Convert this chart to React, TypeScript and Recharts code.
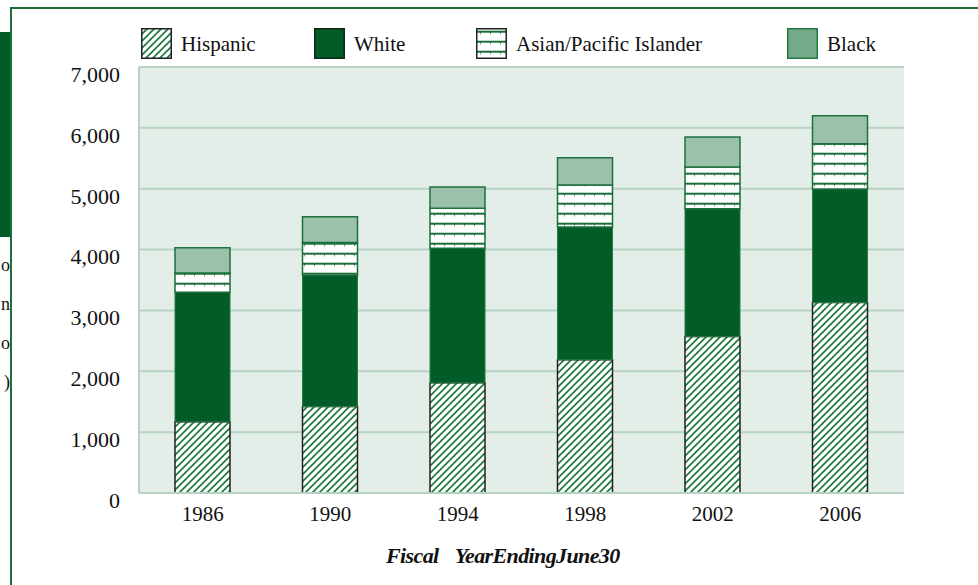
import React from "react";
import { BarChart, Bar, XAxis, YAxis, CartesianGrid } from "recharts";

const years = ["1986", "1990", "1994", "1998", "2002", "2006"];
const hispanic = [1170, 1420, 1810, 2190, 2570, 3130];
const white = [2130, 2160, 2210, 2180, 2100, 1865];
const asian = [315, 535, 660, 690, 685, 745];
const black = [415, 425, 350, 450, 495, 460];
const yTicks = [0, 1000, 2000, 3000, 4000, 5000, 6000, 7000];

const data = years.map((year, i) => ({
  year,
  hispanic: hispanic[i],
  white: white[i],
  asian: asian[i],
  black: black[i],
}));

const DARK = "#015c27";
const FRAME = "#1f6d3a";
const GRID = "#b6d2c1";
const SERIF = "'Liberation Serif', 'DejaVu Serif', serif";

const legendItems = [
  { label: "Hispanic", fill: "url(#hatch)", border: "#222", left: 141 },
  { label: "White", fill: DARK, border: "#0f2a18", left: 314 },
  { label: "Asian/Pacific Islander", fill: "url(#hlines)", border: "#222", left: 476 },
  { label: "Black", fill: "#76a98a", border: "#1e7a3e", left: 787 },
];

const fmt = (v: number) => v.toLocaleString("en-US");

const YTick = (props: any) => {
  const { x, y, payload } = props;
  return (
    <text x={x} y={y + 7} dy="0.355em" textAnchor="end" fontFamily={SERIF} fontSize={22} fill="#111">
      {fmt(payload.value)}
    </text>
  );
};

const XTick = (props: any) => {
  const { x, y, payload } = props;
  return (
    <text x={x} y={y} dy="0.71em" textAnchor="middle" fontFamily={SERIF} fontSize={21} fill="#111">
      {payload.value}
    </text>
  );
};

export default function App() {
  return (
    <div style={{ position: "absolute", left: 0, top: 0, width: 978, height: 585, background: "#fff", overflow: "hidden" }}>
      <svg width="0" height="0" style={{ position: "absolute" }}>
        <defs>
          <pattern id="hatch" patternUnits="userSpaceOnUse" width="7" height="7">
            <rect width="7" height="7" fill="#fff" />
            <path d="M-1,1 l2,-2 M0,7 l7,-7 M6,8 l2,-2" stroke="#1c7a3c" strokeWidth="1.7" />
          </pattern>
          <pattern id="hlines" patternUnits="userSpaceOnUse" width="10" height="10" y="2.7">
            <rect width="10" height="10" fill="#fff" />
            <rect y="0" width="10" height="2" fill="#1a6e38" />
            <rect x="4" y="2" width="1" height="1.5" fill="#5d8f6f" />
          </pattern>
        </defs>
      </svg>

      {/* page frame */}
      <div style={{ position: "absolute", left: 10, top: 7, width: 966, height: 600, borderTop: `2px solid ${FRAME}`, borderLeft: `2px solid ${FRAME}`, borderRight: `2px solid ${FRAME}` }} />
      <div style={{ position: "absolute", left: 0, top: 32, width: 10, height: 205, background: DARK }} />
      <div style={{ position: "absolute", left: 0, top: 246, width: 10, fontFamily: SERIF, fontSize: 18, color: "#111" }}>
        {["o", "n", "o", ")"].map((c, i) => (
          <div key={i} style={{ lineHeight: "39px", textAlign: "right" }}>{c}</div>
        ))}
      </div>

      <BarChart
        width={978}
        height={585}
        data={data}
        margin={{ top: 67, right: 74, bottom: 62, left: 79 }}
        style={{ position: "absolute", left: 0, top: 0 }}
      >
        <CartesianGrid vertical={false} fill="#e4eee8" stroke={GRID} strokeWidth={2} />
        <XAxis
          dataKey="year"
          height={30}
          axisLine={{ stroke: GRID, strokeWidth: 2 }}
          tickLine={false}
          tickSize={0}
          tickMargin={13}
          tick={<XTick />}
        />
        <YAxis
          width={60}
          domain={[0, 7000]}
          ticks={yTicks}
          axisLine={{ stroke: GRID, strokeWidth: 2 }}
          tickLine={false}
          tickSize={0}
          tickMargin={19}
          tick={<YTick />}
        />
        <YAxis
          yAxisId="r"
          orientation="right"
          width={0}
          domain={[0, 7000]}
          ticks={yTicks}
          axisLine={{ stroke: GRID, strokeWidth: 2 }}
          tick={false}
          tickLine={false}
        />
        <Bar dataKey="hispanic" stackId="a" barSize={55} fill="url(#hatch)" stroke="#222" strokeWidth={1.5} isAnimationActive={false} />
        <Bar dataKey="white" stackId="a" barSize={55} fill={DARK} stroke="#2a7a46" strokeWidth={1} isAnimationActive={false} />
        <Bar dataKey="asian" stackId="a" barSize={55} fill="url(#hlines)" stroke="#1a6e38" strokeWidth={1.5} isAnimationActive={false} />
        <Bar dataKey="black" stackId="a" barSize={55} fill="#9cc1aa" stroke="#1e7040" strokeWidth={1.5} isAnimationActive={false} />
      </BarChart>

      {/* legend */}
      {legendItems.map((it) => (
        <div key={it.label} style={{ position: "absolute", left: it.left, top: 28, height: 31, display: "flex", alignItems: "center" }}>
          <svg width={31} height={31} style={{ display: "block" }}>
            <rect x={0.75} y={0.75} width={29.5} height={29.5} fill={it.fill} stroke={it.border} strokeWidth={1.5} />
          </svg>
          <span style={{ marginLeft: 9, fontFamily: SERIF, fontSize: 21, color: "#111", whiteSpace: "nowrap", position: "relative", top: 1 }}>
            {it.label}
          </span>
        </div>
      ))}

      {/* x axis title */}
      <div style={{ position: "absolute", left: 386, top: 543, fontFamily: SERIF, fontSize: 22, fontWeight: "bold", fontStyle: "italic", color: "#111", whiteSpace: "nowrap", letterSpacing: -0.6 }}>
        <span>Fiscal</span>
        <span style={{ marginLeft: 16, wordSpacing: -5 }}>Year Ending June 30</span>
      </div>
    </div>
  );
}
